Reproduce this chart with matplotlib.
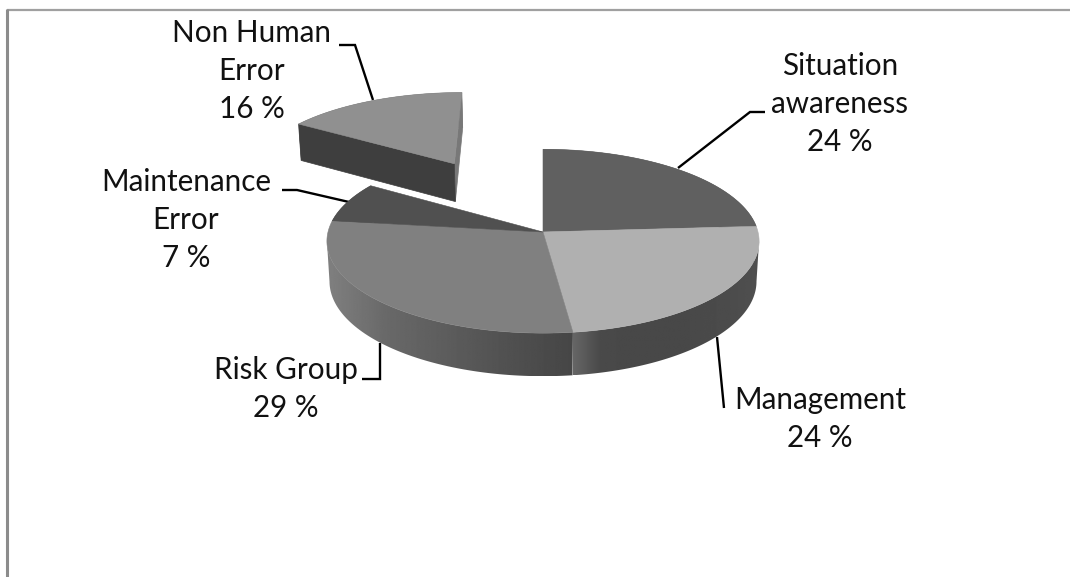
import numpy as np
import matplotlib
matplotlib.use('Agg')
import matplotlib.pyplot as plt
from matplotlib.patches import Polygon

# chart data
names = ['Situation\nawareness', 'Management', 'Risk Group', 'Maintenance\nError', 'Non Human\nError']
values = [24, 24, 29, 7, 16]
exploded = [0, 0, 0, 0, 1]

# look of each slice
top_grays = ['#606060', '#b0b0b0', '#808080', '#505050', '#909090']
# gray of the rim from its left end to its right end
wall_grays = [[0x50, 0x50], [0x66, 0x4a, 0x48, 0x48, 0x48, 0x4a, 0x4c, 0x50], [0x80, 0x68, 0x5c, 0x50, 0x46], [0x50, 0x50], [0x40, 0x40]]
# rim runs on a little under the top face so the silhouette closes, radians
wall_over_start = [0, 0.3, 0, 0, 0]
wall_over_end = [0, 0, 0.3, 0, 0]

# label positions, px
label_xy = [(840, 104), (820, 419), (286, 389), (186, 220), (252, 71)]
leaders = [
    [(678, 168), (750, 112), (765, 112)],
    [(717, 337), (724, 408)],
    [(380, 343), (380, 379), (362, 379)],
    [(349, 202), (297, 190), (282, 190)],
    [(373, 100), (355, 45), (339, 45)],
]

# perspective of the disc, px
cx, cy = 543, 232
rx, ry = 215, 91
tilt = 0.1
depth = 40.5
blast = 0.925


def project(u, v, low=False):
    d = 1 + tilt * v + (0.012 if low else 0)
    x = cx + rx * u / d
    y = cy - (ry * v - (depth if low else 0)) / d
    return x, y


def disc(t, off, low=False):
    return project(np.cos(t) + off[0], np.sin(t) + off[1], low)


fig = plt.figure(figsize=(10.7, 5.77), dpi=100)
ax = fig.add_axes([0, 0, 1, 1])

# frame
ax.plot([7, 1070], [9.5, 9.5], color='#a0a0a0', lw=1.6, solid_capstyle='butt')
ax.plot([7, 7], [9, 577], color='#8c8c8c', lw=2.2, solid_capstyle='butt')

pct = np.array(values) / sum(values) * 2 * np.pi
ends = np.pi / 2 - np.cumsum(pct)
starts = ends + pct

# main pie first, the pulled out slice over it
for i in np.argsort(exploded):
    t = np.linspace(starts[i], ends[i], 200)
    mid = (starts[i] + ends[i]) / 2
    off = (blast * np.cos(mid), blast * np.sin(mid)) if exploded[i] else (0, 0)

    # rim: gray ramp clipped to the rim's outline
    tw = np.linspace(starts[i] + wall_over_start[i], ends[i] - wall_over_end[i], 400)
    xwt, ywt = disc(tw, off)
    xwb, ywb = disc(tw, off, low=True)
    # stop both arcs at the widest point, the straight side joins them there
    if wall_over_start[i]:
        a, b = np.argmax(xwt), np.argmax(xwb)
        xwt, ywt, xwb, ywb = xwt[a:], ywt[a:], xwb[b:], ywb[b:]
    if wall_over_end[i]:
        a, b = np.argmin(xwt), np.argmin(xwb)
        xwt, ywt, xwb, ywb = xwt[:a + 1], ywt[:a + 1], xwb[:b + 1], ywb[:b + 1]
    rim = np.c_[np.r_[xwt, xwb[::-1]], np.r_[ywt, ywb[::-1]]]
    ramp = np.interp(np.linspace(0, 1, 256), np.linspace(0, 1, len(wall_grays[i])), wall_grays[i])
    im = ax.imshow(ramp[None, :], cmap='gray', vmin=0, vmax=255, aspect='auto', interpolation='bilinear',
                   extent=[rim[:, 0].min(), rim[:, 0].max(), rim[:, 1].max(), rim[:, 1].min()],
                   zorder=2 + 3 * exploded[i])
    im.set_clip_path(Polygon(rim, transform=ax.transData))

    xt, yt = disc(t, off)
    xb, yb = disc(t, off, low=True)
    ax0, ay0 = project(off[0], off[1])
    bx0, by0 = project(off[0], off[1], low=True)
    if exploded[i]:
        # the two cut faces
        ax.fill([xt[-1], ax0, bx0, xb[-1]], [yt[-1], ay0, by0, yb[-1]], color='#787878', lw=0.5, zorder=5)
        ax.fill([xt[0], ax0, bx0, xb[0]], [yt[0], ay0, by0, yb[0]], color='#3e3e3e', lw=0.5, zorder=6)
    ax.fill(np.r_[ax0, xt], np.r_[ay0, yt], color=top_grays[i], lw=0.4, zorder=3 + 4 * exploded[i])

# leader lines and labels
for pts, name, (lx, ly), v in zip(leaders, names, label_xy, values):
    ax.plot([p[0] for p in pts], [p[1] for p in pts], color='#000000', lw=1.7, zorder=1,
            solid_joinstyle='miter', solid_capstyle='butt')
    ax.text(lx, ly, name + '\n%d %%' % v, ha='center', va='center', family='Lato',
            fontsize=21.3, color='#111111', linespacing=1.42, zorder=10)

ax.set_xlim(0, 1070)
ax.set_ylim(577, 0)
ax.axis('off')

fig.savefig('out.png', dpi=100, facecolor='white')
